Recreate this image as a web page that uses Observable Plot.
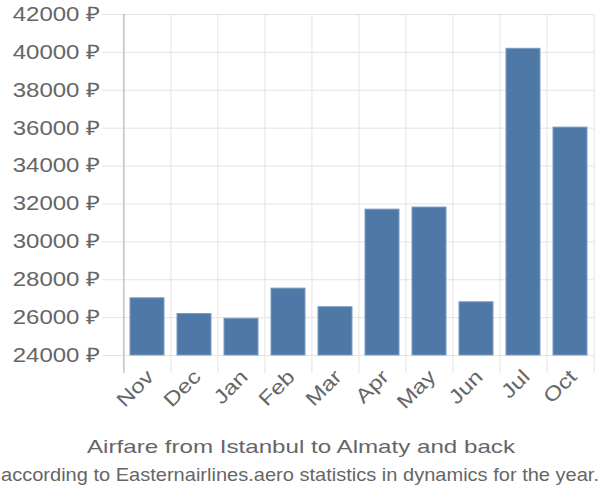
<!DOCTYPE html>
<html>
<head>
<meta charset="utf-8">
<script src="https://cdn.jsdelivr.net/npm/d3@7"></script>
<script src="https://cdn.jsdelivr.net/npm/@observablehq/plot@0.6"></script>
<style>
  html, body { margin: 0; padding: 0; background: #fff; }
  body { width: 600px; height: 500px; overflow: hidden; font-family: "Liberation Sans", Arial, sans-serif; }
  svg { display: block; }
</style>
</head>
<body>
<div id="chart"></div>
<script>
const months = ["Nov", "Dec", "Jan", "Feb", "Mar", "Apr", "May", "Jun", "Jul", "Oct"];
const prices = [27020, 26190, 25940, 27530, 26550, 31700, 31810, 26810, 40190, 36030];
const yTicks = [24000, 26000, 28000, 30000, 32000, 34000, 36000, 38000, 40000, 42000];
const titleText = "Airfare from Istanbul to Almaty and back";
const subtitleText = "according to Easternairlines.aero statistics in dynamics for the year.";

const data = months.map((m, i) => ({month: m, price: prices[i]}));

const W = 600, H = 425, mL = 122, mR = 6, mT = 14, mB = 70;
const step = (W - mL - mR) / months.length;
const gridColor = "#e4e4e4";
const textColor = "#666";

const plot = Plot.plot({
  width: W,
  height: H,
  marginLeft: mL,
  marginRight: mR,
  marginTop: mT,
  marginBottom: mB,
  style: {fontFamily: "'Liberation Sans', Arial, sans-serif", background: "#fff"},
  x: {type: "band", domain: months, paddingInner: 0.28, paddingOuter: 0.14, label: null},
  y: {domain: [yTicks[0], yTicks[yTicks.length - 1]], label: null},
  marks: [
    Plot.gridY(yTicks, {stroke: gridColor, strokeOpacity: 1, strokeWidth: 1}),
    Plot.ruleX(months, {x: d => d, dx: -step / 2, stroke: gridColor, insetBottom: -18}),
    Plot.ruleX([months[months.length - 1]], {x: d => d, dx: step / 2, stroke: gridColor, insetBottom: -18}),
    Plot.barY(data, {x: "month", y1: yTicks[0], y2: "price", fill: "#4e79a7", stroke: "#7d9cc0", strokeWidth: 1}),
    Plot.ruleX([months[0]], {x: d => d, dx: -step / 2, stroke: "#b0b0b0", insetBottom: -18}),
    Plot.axisY(yTicks, {tickFormat: d => `${d} ₽`, tickSize: 20, tickPadding: 2, fontSize: 20, fill: textColor, stroke: gridColor, strokeOpacity: 1, label: null}),
    Plot.axisX({tickRotate: -45, tickSize: 0, tickPadding: 18, fontSize: 20, fill: textColor, dx: 3, label: null})
  ]
});
document.getElementById("chart").appendChild(plot);

// widen tick labels to match the reference glyph proportions
d3.select(plot).selectAll('g[aria-label="y-axis tick label"] text, g[aria-label="x-axis tick label"] text').each(function() {
  const len = this.getComputedTextLength();
  this.setAttribute("textLength", len * 1.2);
  this.setAttribute("lengthAdjust", "spacingAndGlyphs");
});

// caption
const cap = d3.select("body").append("svg").attr("width", W).attr("height", 500 - H)
  .style("font-family", "'Liberation Sans', Arial, sans-serif");
cap.append("text").attr("x", 301).attr("y", 453 - H).attr("text-anchor", "middle")
  .attr("font-size", 19).attr("fill", textColor)
  .attr("textLength", 428).attr("lengthAdjust", "spacingAndGlyphs").text(titleText);
cap.append("text").attr("x", 300).attr("y", 481 - H).attr("text-anchor", "middle")
  .attr("font-size", 19).attr("fill", textColor)
  .attr("textLength", 598).attr("lengthAdjust", "spacingAndGlyphs").text(subtitleText);
</script>
</body>
</html>
